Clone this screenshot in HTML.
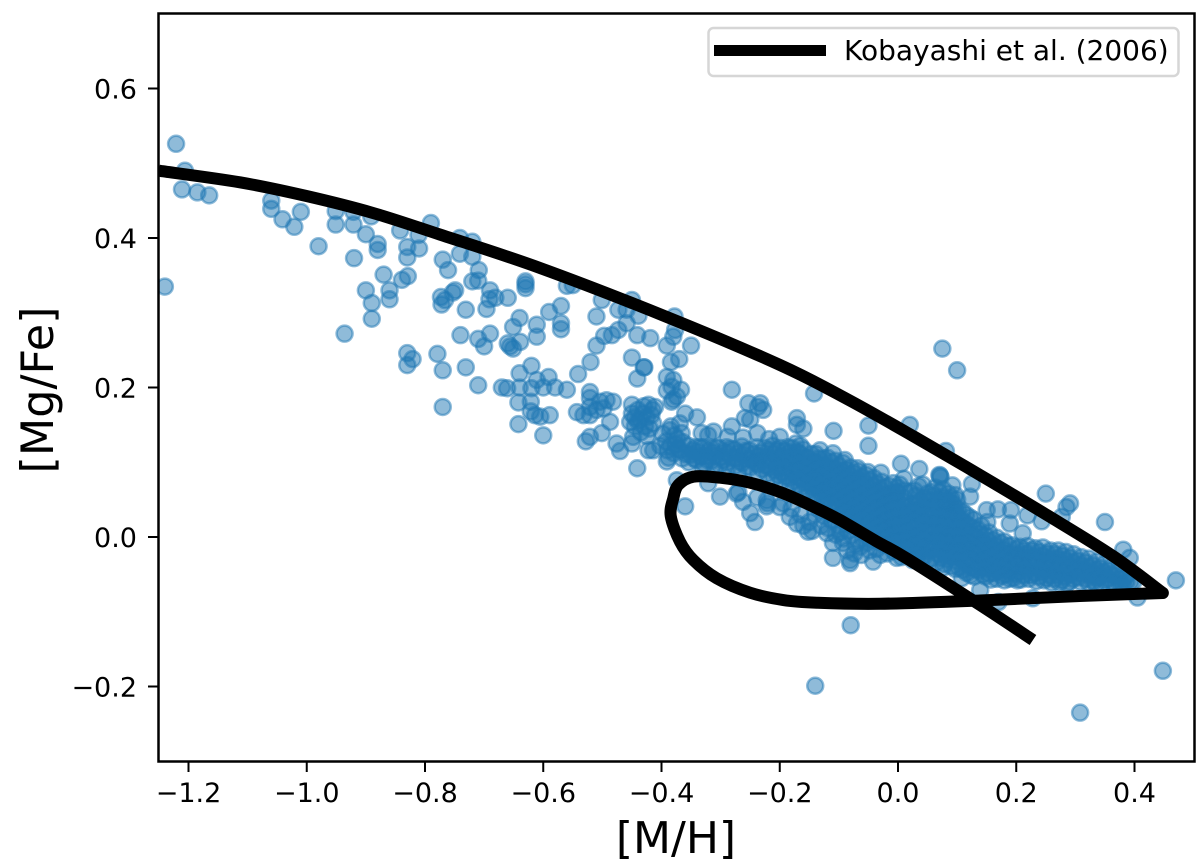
<!DOCTYPE html>
<html lang="en">
<head>
<meta charset="utf-8">
<title>[Mg/Fe] vs [M/H]</title>
<style>
html,body{margin:0;padding:0;background:#fff;}
body{width:1200px;height:861px;overflow:hidden;}
svg{display:block;font-family:"DejaVu Sans","Liberation Sans",sans-serif;}
</style>
</head>
<body>
<svg id="chart" xmlns="http://www.w3.org/2000/svg" width="1200" height="861" viewBox="0 0 1200 861">
<defs><clipPath id="plot-clip"><rect x="158.5" y="13.5" width="1036" height="748"/></clipPath></defs>
<rect x="0" y="0" width="1200" height="861" fill="#fff"/>
<g id="stars" clip-path="url(#plot-clip)"></g>
<path id="model" clip-path="url(#plot-clip)" fill="none" stroke="#000" stroke-width="12" stroke-linejoin="round" stroke-linecap="butt"/>
<g id="ticks"></g>
<rect x="158.5" y="13.5" width="1036" height="748" fill="none" stroke="#000" stroke-width="2.5"/>
<text x="676" y="853" font-size="44" text-anchor="middle" fill="#000">[M/H]</text>
<text transform="translate(53,390) rotate(-90)" font-size="44.5" text-anchor="middle" fill="#000">[Mg/Fe]</text>
<g>
<rect x="708.5" y="28" width="470" height="48" rx="5" ry="5" fill="#fff" fill-opacity="0.8" stroke="#d6d6d6" stroke-width="2.5"/>
<line x1="714" y1="50.5" x2="826" y2="50.5" stroke="#000" stroke-width="11"/>
<text x="844" y="60" font-size="28" fill="#000">Kobayashi et al. (2006)</text>
</g>
</svg>
<script>
const xTickValues = [-1.2, -1.0, -0.8, -0.6, -0.4, -0.2, 0.0, 0.2, 0.4];
const xTickLabels = ["\u22121.2", "\u22121.0", "\u22120.8", "\u22120.6", "\u22120.4", "\u22120.2", "0.0", "0.2", "0.4"];
const yTickValues = [-0.2, 0.0, 0.2, 0.4, 0.6];
const yTickLabels = ["\u22120.2", "0.0", "0.2", "0.4", "0.6"];

const modelRiseMH = [-1.25, -1.113, -0.9996, -0.888, -0.775, -0.6055, -0.3907, -0.1996, -0.0863, 0.0254, 0.1387, 0.252, 0.3636, 0.448];
const modelRiseMgFe = [0.49, 0.4745, 0.456, 0.4335, 0.4047, 0.3599, 0.2943, 0.2301, 0.1846, 0.1351, 0.0829, 0.0294, -0.0254, -0.0749];
const modelReturnMH = [0.448, 0.3078, 0.1387, -0.0304, -0.1375, -0.194, -0.2503, -0.3066, -0.3462, -0.3687, -0.3844, -0.38, -0.3716, -0.3462, -0.3011, -0.2503, -0.194, -0.1375, -0.0981, -0.0372, 0.0152, 0.1387, 0.2283];
const modelReturnMgFe = [-0.0749, -0.0789, -0.0849, -0.0893, -0.0879, -0.0843, -0.0745, -0.0553, -0.0308, -0.0063, 0.028, 0.052, 0.0696, 0.0807, 0.0793, 0.0726, 0.0585, 0.0384, 0.0227, -0.0054, -0.0288, -0.091, -0.1378];

const starsSparse = [
[-1.221,.526],[-1.206,.490],[-1.211,.465],[-1.185,.461],[-1.165,.457],[-1.060,.450],[-1.060,.439],[-1.041,.425],[-1.010,.435],[-1.021,.415],
[-.980,.389],[-.951,.436],[-.951,.418],[-.921,.435],[-.921,.418],[-.891,.429],[-.900,.405],[-.880,.392],[-.880,.384],[-.920,.373],
[-.842,.410],[-.811,.404],[-.790,.420],[-.830,.388],[-.810,.386],[-.830,.374],[-.870,.351],[-.829,.349],[-.839,.344],[-.860,.330],
[-.860,.318],[-.900,.330],[-.890,.313],[-.890,.292],[-.936,.272],[-1.240,.335],[-.770,.371],[-.761,.357],[-.741,.400],[-.720,.395],
[-.741,.379],[-.720,.375],[-.709,.357],[-.720,.342],[-.710,.343],[-.749,.330],[-.753,.327],[-.773,.321],[-.766,.317],[-.772,.311],
[-.731,.304],[-.690,.330],[-.691,.318],[-.681,.320],[-.696,.305],[-.660,.320],[-.630,.342],[-.630,.338],[-.630,.333],[-.640,.293],
[-.651,.281],[-.611,.284],[-.611,.268],[-.740,.270],[-.710,.265],[-.690,.272],[-.700,.255],[-.639,.261],[-.660,.259],[-.651,.252],
[-.656,.255],[-.830,.246],[-.821,.238],[-.830,.230],[-.779,.245],[-.770,.223],[-.731,.227],[-.710,.203],[-.670,.200],[-.661,.199],
[-.640,.219],[-.620,.229],[-.611,.210],[-.640,.200],[-.620,.199],[-.770,.174],
[-.590,.301],[-.570,.309],[-.570,.286],[-.570,.278],[-.510,.295],[-.501,.317],[-.560,.336],[-.550,.337],[-.473,.304],[-.450,.317],
[-.459,.304],[-.439,.296],[-.459,.286],[-.473,.277],[-.484,.270],[-.497,.269],[-.510,.256],[-.520,.234],[-.541,.218],[-.441,.270],
[-.419,.266],[-.378,.295],[-.377,.277],[-.380,.268],[-.391,.256],[-.350,.256],[-.384,.234],[-.370,.238],[-.450,.240],[-.429,.227],
[-.430,.227],[-.441,.212],[-.391,.214],[-.380,.210],[-.391,.196],[-.383,.201],[-.367,.197],[-.380,.184],[-.374,.188],
[-.383,.181],[-.642,.180],[-.621,.181],[-.621,.168],[-.614,.163],[-.605,.161],[-.589,.163],[-.642,.151],[-.600,.136],[-.591,.214],
[-.600,.200],[-.580,.200],[-.560,.197],[-.521,.194],[-.521,.186],[-.543,.167],[-.532,.163],[-.521,.163],[-.521,.174],[-.510,.170],
[-.498,.172],[-.493,.183],[-.482,.181],[-.504,.181],[-.487,.154],[-.501,.139],[-.521,.134],[-.528,.128],[-.476,.125],[-.470,.115],
[-.450,.125],[-.448,.134],[-.441,.092],
[-.450,.177],[-.450,.165],[-.436,.157],[-.453,.154],[-.422,.177],[-.411,.174],[-.417,.163],[-.431,.165],[-.445,.148],[-.428,.148],
[-.414,.152],[-.44,.17],[-.425,.16],[-.44,.155],[-.42,.145],[-.435,.14],[-.43,.175],[-.415,.17],[-.445,.16],[-.425,.135],
[-.422,.116],[-.414,.116],[-.391,.101],[-.374,.076],[-.321,.072],[-.360,.041],[-.301,.054],[-.281,.197],[-.253,.179],[-.233,.179],
[-.228,.170],[-.237,.174],[-.259,.159],[-.250,.157],[-.340,.160],[-.360,.165],[-.369,.152],[-.386,.143],[-.281,.148],[-.332,.139],
[-.312,.141],[-.321,.136],[-.171,.159],[-.171,.150],[-.262,.047],[-.250,.032],[-.242,.020],[-.222,.041],[-.171,.018],
[-.273,.058],[-.222,.049],
[-.194,.045],[-.183,.027],[-.152,.007],[-.120,.005],[-.110,-.008],[-.110,-.028],[-.081,-.031],[-.081,-.035],[-.042,-.033],
[-.064,-.013],[-.093,-.008],[-.052,-.008],[-.002,-.028],[.075,.252],[.100,.223],[-.142,.192],[-.160,.145],[-.109,.142],
[-.050,.149],[-.050,.122],[-.110,.112],[-.090,.103],[-.068,.092],[-.051,.087],[-.029,.086],[.020,.150],[.081,.115],[.005,.098],
[.036,.091],[.010,.078],[-.001,.066],[-.002,.059],[.071,.082],[.072,.080],[.070,.083],[.092,.069],[.125,.071],[.122,.054],
[.088,.047],[.094,.044],[.082,.043],[.098,.038],[.086,.036],[.150,.036],[.169,.037],[.191,.036],[.219,.029],[.151,.020],
[.189,.018],[.211,.005],[.250,.058],[.291,.045],[.285,.040],[.243,.021],[.277,.027],[.350,.020],[.381,-.017],[.392,-.028],
[.470,-.058],[.405,-.081],[.170,-.087],[.228,-.082],[-.080,-.118],[.108,-.055],[.139,-.071],[.076,-.041],[-.140,-.199],[.448,-.179],[.308,-.235],
[-.238,.139],[-.200,.134],[-.218,.131]
];

const starsDenseBand = [
[-.392,.128],[-.390,.116],[-.388,.106],[-.378,.136],[-.376,.124],[-.379,.112],[-.366,.139],[-.364,.127],[-.368,.116],[-.365,.105],
[-.355,.122],[-.351,.110],[-.354,.100],[-.342,.120],[-.339,.114],[-.341,.103],[-.329,.120],
[-.326,.108],[-.328,.098],[-.316,.119],[-.313,.113],[-.315,.102],[-.303,.119],[-.300,.107],[-.302,.096],
[-.288,.134],[-.290,.120],[-.287,.112],[-.289,.100],[-.277,.117],[-.274,.106],[-.276,.095],[-.262,.133],[-.264,.121],
[-.261,.110],[-.263,.099],[-.251,.116],[-.248,.104],[-.250,.093],[-.238,.120],[-.235,.108],[-.237,.097],
[-.237,.086],[-.225,.119],[-.222,.107],[-.224,.096],[-.221,.085],[-.212,.122],[-.209,.111],[-.211,.100],
[-.208,.089],[-.210,.079],[-.199,.119],[-.196,.108],[-.198,.097],[-.195,.086],[-.197,.075],
[-.186,.120],[-.183,.113],[-.185,.101],[-.182,.090],[-.184,.079],[-.183,.070],[-.173,.125],[-.170,.114],[-.172,.103],[-.169,.092],
[-.171,.081],[-.168,.070],[-.160,.117],[-.157,.106],[-.159,.095],[-.156,.084],[-.158,.073],[-.155,.062],
[-.147,.111],[-.144,.100],[-.146,.089],[-.143,.078],[-.145,.067],[-.142,.056],[-.132,.116],[-.134,.105],[-.131,.094],[-.133,.083],
[-.130,.072],[-.132,.061],[-.129,.050],[-.119,.106],[-.121,.095],[-.118,.084],[-.120,.073],[-.117,.062],[-.119,.051],[-.116,.040],
[-.106,.102],[-.108,.091],[-.105,.080],[-.107,.069],[-.104,.058],[-.106,.047],[-.103,.036],[-.093,.099],[-.095,.088],[-.092,.077],
[-.094,.066],[-.091,.055],[-.093,.044],[-.090,.033],[-.092,.022],[-.080,.093],[-.082,.082],[-.079,.071],[-.081,.060],[-.078,.049],
[-.080,.038],[-.077,.027],[-.079,.016],[-.067,.088],[-.069,.077],[-.066,.066],[-.068,.055],[-.065,.044],[-.067,.033],[-.064,.022],
[-.066,.011],[-.054,.083],[-.056,.072],[-.053,.061],[-.055,.050],[-.052,.039],[-.054,.028],[-.051,.017],[-.053,.006],[-.041,.079],
[-.043,.068],[-.040,.057],[-.042,.046],[-.039,.035],[-.041,.024],[-.038,.013],[-.040,.002],[-.028,.074],[-.030,.063],[-.027,.052],
[-.029,.041],[-.026,.030],[-.028,.019],[-.025,.008],[-.027,-.003],[-.015,.068],[-.017,.057],[-.014,.046],[-.016,.035],[-.013,.024],
[-.015,.013],[-.012,.002],[-.014,-.009],[-.002,.060],[-.004,.049],[-.001,.038],[-.003,.027],[.000,.016],[-.002,.005],[.001,-.006],
[-.001,-.016],[.011,.052],[.009,.041],[.012,.030],[.010,.019],[.013,.008],[.011,-.003],[.014,-.014],[.012,-.024],[.024,.044],
[.022,.033],[.025,.022],[.023,.011],[.026,.000],[.024,-.011],[.027,-.022],[.025,-.031],[.037,.048],[.035,.037],[.038,.026],
[.036,.015],[.039,.004],[.037,-.007],[.040,-.018],[.038,-.029],[.050,.058],[.048,.047],[.051,.036],[.049,.025],[.052,.014],
[.050,.003],[.053,-.008],[.051,-.019],[.049,-.032],[.063,.066],[.061,.055],[.064,.044],[.062,.033],[.065,.022],[.063,.011],
[.066,.000],[.064,-.011],[.067,-.022],[.065,-.034],[.076,.064],[.074,.053],[.077,.042],[.075,.031],[.078,.020],[.076,.009],
[.079,-.002],[.077,-.013],[.080,-.024],[.078,-.036],[.089,.040],[.087,.029],[.090,.018],[.088,.007],[.091,-.004],[.089,-.015],
[.092,-.026],[.090,-.039],[.102,.038],[.100,.027],[.103,.016],[.101,.005],[.104,-.006],[.102,-.017],[.105,-.028],[.103,-.041],
[.115,.030],[.113,.019],[.116,.008],[.114,-.003],[.117,-.014],[.115,-.025],[.118,-.036],[.116,-.048],[.128,.023],[.126,.012],
[.129,.001],[.127,-.010],[.130,-.021],[.128,-.032],[.131,-.043],[.129,-.053],[.141,.015],[.139,.004],[.142,-.007],[.140,-.018],
[.143,-.029],[.141,-.040],[.144,-.050],[.154,.006],[.152,-.005],[.155,-.016],[.153,-.027],[.156,-.038],[.154,-.049],[.157,-.057],
[.167,-.001],[.165,-.012],[.168,-.023],[.166,-.034],[.169,-.045],[.167,-.056],[.180,-.006],[.178,-.017],[.181,-.028],[.179,-.039],
[.182,-.050],[.180,-.058],[.193,-.011],[.191,-.022],[.194,-.033],[.192,-.044],[.195,-.055],[.206,-.013],[.204,-.024],[.207,-.035],
[.205,-.046],[.208,-.057],[.219,-.012],[.217,-.023],[.220,-.034],[.218,-.045],[.221,-.056],[.232,-.015],[.230,-.026],[.233,-.037],
[.231,-.048],[.234,-.059],[.245,-.014],[.243,-.025],[.246,-.036],[.244,-.047],[.247,-.058],[.258,-.018],[.256,-.029],[.259,-.040],
[.257,-.051],[.260,-.061],[.271,-.018],[.269,-.029],[.272,-.040],[.270,-.051],[.273,-.061],[.284,-.020],[.282,-.031],[.285,-.042],
[.283,-.053],[.286,-.062],[.297,-.023],[.295,-.034],[.298,-.045],[.296,-.056],[.310,-.027],[.308,-.038],[.311,-.049],[.309,-.060],
[.323,-.029],[.321,-.040],[.324,-.051],[.322,-.061],[.336,-.033],[.334,-.044],[.337,-.055],[.335,-.063],[.349,-.036],[.347,-.047],
[.350,-.058],[.362,-.039],[.360,-.050],[.363,-.060],[.375,-.045],[.373,-.056],[.376,-.064],[.388,-.050],[.386,-.060],[.398,-.060]
];

const starsDenseFill = [
[-.402,.122],[-.398,.138],[-.384,.148],[-.385,.122],[-.372,.118],[-.373,.131],[-.359,.111],[-.347,.116],
[-.345,.105],[-.335,.120],[-.334,.108],[-.320,.114],[-.322,.103],[-.307,.119],[-.309,.108],
[-.294,.113],[-.296,.103],[-.283,.118],[-.281,.106],[-.270,.112],[-.268,.101],
[-.257,.115],[-.255,.104],[-.256,.094],[-.244,.111],[-.242,.100],[-.231,.113],[-.229,.102],[-.230,.091],
[-.218,.116],[-.216,.104],[-.217,.093],[-.205,.116],[-.203,.105],[-.204,.094],[-.203,.083],
[-.192,.115],[-.190,.104],[-.191,.093],[-.190,.081],[-.179,.119],[-.177,.108],[-.178,.097],[-.176,.086],[-.177,.075],
[-.165,.122],[-.166,.111],[-.164,.100],[-.165,.089],[-.163,.078],[-.164,.067],[-.153,.106],[-.151,.095],[-.152,.084],
[-.150,.073],[-.151,.062],[-.139,.111],[-.140,.100],[-.138,.089],[-.139,.078],[-.137,.067],[-.138,.056],[-.126,.105],[-.127,.094],
[-.125,.083],[-.126,.072],[-.124,.061],[-.125,.050],[-.113,.100],[-.114,.089],[-.112,.078],[-.113,.067],[-.111,.056],[-.112,.045],
[-.100,.095],[-.101,.084],[-.099,.073],[-.100,.062],[-.098,.051],[-.099,.040],[-.097,.029],[-.087,.090],[-.088,.079],[-.086,.068],
[-.087,.057],[-.085,.046],[-.086,.035],[-.084,.024],[-.074,.085],[-.075,.074],[-.073,.063],[-.074,.052],[-.072,.041],[-.073,.030],
[-.071,.019],[-.061,.080],[-.062,.069],[-.060,.058],[-.061,.047],[-.059,.036],[-.060,.025],[-.058,.014],[-.048,.076],[-.049,.065],
[-.047,.054],[-.048,.043],[-.046,.032],[-.047,.021],[-.045,.010],[-.035,.071],[-.036,.060],[-.034,.049],[-.035,.038],[-.033,.027],
[-.034,.016],[-.032,.005],[-.033,-.006],[-.022,.066],[-.023,.055],[-.021,.044],[-.022,.033],[-.020,.022],[-.021,.011],[-.019,.000],
[-.020,-.011],[-.009,.058],[-.010,.047],[-.008,.036],[-.009,.025],[-.007,.014],[-.008,.003],[-.006,-.008],[-.007,-.019],[.005,.049],
[.003,.038],[.006,.027],[.004,.016],[.007,.005],[.005,-.006],[.008,-.017],[.006,-.027],[.018,.040],[.016,.029],[.019,.018],
[.017,.007],[.020,-.004],[.018,-.015],[.021,-.026],[.031,.045],[.029,.034],[.032,.023],[.030,.012],[.033,.001],[.031,-.010],
[.034,-.021],[.032,-.031],[.044,.052],[.042,.041],[.045,.030],[.043,.019],[.046,.008],[.044,-.003],[.047,-.014],[.045,-.025],
[.057,.060],[.055,.049],[.058,.038],[.056,.027],[.059,.016],[.057,.005],[.060,-.006],[.058,-.017],[.056,-.029],[.070,.060],
[.068,.049],[.071,.038],[.069,.027],[.072,.016],[.070,.005],[.073,-.006],[.071,-.017],[.074,-.028],[.083,.047],[.081,.036],
[.084,.025],[.082,.014],[.085,.003],[.083,-.008],[.086,-.019],[.084,-.030],[.096,.034],[.094,.023],[.097,.012],[.095,.001],
[.098,-.010],[.096,-.021],[.099,-.032],[.097,-.043],[.109,.034],[.107,.023],[.110,.012],[.108,.001],[.111,-.010],[.109,-.021],
[.112,-.032],[.110,-.044],[.122,.026],[.120,.015],[.123,.004],[.121,-.007],[.124,-.018],[.122,-.029],[.125,-.040],[.123,-.051],
[.135,.010],[.133,-.001],[.136,-.012],[.134,-.023],[.137,-.034],[.135,-.045],[.148,.002],[.146,-.009],[.149,-.020],[.147,-.031],
[.150,-.042],[.148,-.053],[.161,-.004],[.159,-.015],[.162,-.026],[.160,-.037],[.163,-.048],[.174,-.008],[.172,-.019],[.175,-.030],
[.173,-.041],[.176,-.052],[.187,-.012],[.185,-.023],[.188,-.034],[.186,-.045],[.189,-.056],[.200,-.016],[.198,-.027],[.201,-.038],
[.199,-.049],[.202,-.058],[.213,-.018],[.211,-.029],[.214,-.040],[.212,-.051],[.226,-.018],[.224,-.029],[.227,-.040],[.225,-.051],
[.239,-.020],[.237,-.031],[.240,-.042],[.238,-.053],[.252,-.022],[.250,-.033],[.253,-.044],[.251,-.055],[.265,-.023],[.263,-.034],
[.266,-.045],[.264,-.056],[.278,-.025],[.276,-.036],[.279,-.047],[.277,-.058],[.291,-.028],[.289,-.039],[.292,-.050],[.290,-.060],
[.304,-.032],[.302,-.043],[.305,-.054],[.317,-.034],[.315,-.045],[.318,-.056],[.330,-.038],[.328,-.049],[.331,-.059],[.343,-.042],
[.341,-.053],[.344,-.062],[.356,-.045],[.354,-.056],[.369,-.052],[.367,-.062],[.382,-.056],[.380,-.064],[.393,-.060],
[-.135,.038],[-.125,.028],[-.112,.022],[-.100,.015],[-.118,.012],[-.105,.003],[-.092,-.002],[-.098,.006],[-.085,.008],[-.078,.002],
[-.086,-.018],[-.072,-.010],[-.074,-.022],[-.060,-.002],[-.062,-.024],[-.048,-.018],[-.046,-.004],[-.036,-.016],[-.030,-.024],[-.018,-.022],
[.028,.062],[.035,.068],[.042,.070],[.030,.055],[.020,.060],[.012,.062],[.003,.070],[-.008,.072],
[.090,.052],[.100,.050],[.085,.058],[.097,.056],[.080,.050],
[-.330,.090],[-.310,.090],[-.290,.088],[-.270,.085],
[-.270,.060],[-.238,.053],[-.221,.045],[-.200,.040],[-.180,.038],[-.165,.030],[-.150,.020],[-.160,.015],[-.145,.008],[-.130,.015],[-.140,.030]
];

const xScale = function (v) { return 898 + v * 591.25; };
const yScale = function (v) { return 537 - v * 747.5; };
const NS = 'http://www.w3.org/2000/svg';

const starsGroup = document.getElementById('stars');
starsSparse.concat(starsDenseBand, starsDenseFill).forEach(function (p) {
  const c = document.createElementNS(NS, 'circle');
  
  
  c.setAttribute('cx', xScale(p[0]).toFixed(2));
  c.setAttribute('cy', yScale(p[1]).toFixed(2));
  c.setAttribute('r', '8');
  c.setAttribute('fill', '#1f77b4');
  c.setAttribute('fill-opacity', '0.5');
  c.setAttribute('stroke', '#1f77b4');
  c.setAttribute('stroke-opacity', '0.5');
  c.setAttribute('stroke-width', '2.5');
  starsGroup.appendChild(c);
});

function smoothSegment(xs, ys, moveFirst) {
  const px = xs.map(xScale);
  const py = ys.map(yScale);
  let d = moveFirst ? 'M' + px[0].toFixed(2) + ' ' + py[0].toFixed(2) : '';
  for (let i = 0; i < px.length - 1; i++) {
    const a = Math.max(i - 1, 0);
    const b = Math.min(i + 2, px.length - 1);
    const c1x = px[i] + (px[i + 1] - px[a]) / 6;
    const c1y = py[i] + (py[i + 1] - py[a]) / 6;
    const c2x = px[i + 1] - (px[b] - px[i]) / 6;
    const c2y = py[i + 1] - (py[b] - py[i]) / 6;
    d += 'C' + c1x.toFixed(2) + ' ' + c1y.toFixed(2) + ' ' + c2x.toFixed(2) + ' ' + c2y.toFixed(2) + ' ' + px[i + 1].toFixed(2) + ' ' + py[i + 1].toFixed(2);
  }
  return d;
}
document.getElementById('model').setAttribute('d',
  smoothSegment(modelRiseMH, modelRiseMgFe, true) + smoothSegment(modelReturnMH, modelReturnMgFe, false));

const ticksGroup = document.getElementById('ticks');
xTickValues.forEach(function (v, i) {
  const x = xScale(v);
  const t = document.createElementNS(NS, 'line');
  
  
  t.setAttribute('x1', x); t.setAttribute('x2', x);
  t.setAttribute('y1', 761); t.setAttribute('y2', 772);
  t.setAttribute('stroke', '#000'); t.setAttribute('stroke-width', '2');
  ticksGroup.appendChild(t);
  const l = document.createElementNS(NS, 'text');
  
  
  l.setAttribute('x', x); l.setAttribute('y', 802);
  l.setAttribute('font-size', '27'); l.setAttribute('text-anchor', 'middle'); l.setAttribute('fill', '#000');
  l.textContent = xTickLabels[i];
  ticksGroup.appendChild(l);
});
yTickValues.forEach(function (v, i) {
  const y = yScale(v);
  const t = document.createElementNS(NS, 'line');
  
  
  t.setAttribute('x1', 148); t.setAttribute('x2', 158);
  t.setAttribute('y1', y); t.setAttribute('y2', y);
  t.setAttribute('stroke', '#000'); t.setAttribute('stroke-width', '2');
  ticksGroup.appendChild(t);
  const l = document.createElementNS(NS, 'text');
  
  
  l.setAttribute('x', 137); l.setAttribute('y', y + 10);
  l.setAttribute('font-size', '27'); l.setAttribute('text-anchor', 'end'); l.setAttribute('fill', '#000');
  l.textContent = yTickLabels[i];
  ticksGroup.appendChild(l);
});
</script>
</body>
</html>
